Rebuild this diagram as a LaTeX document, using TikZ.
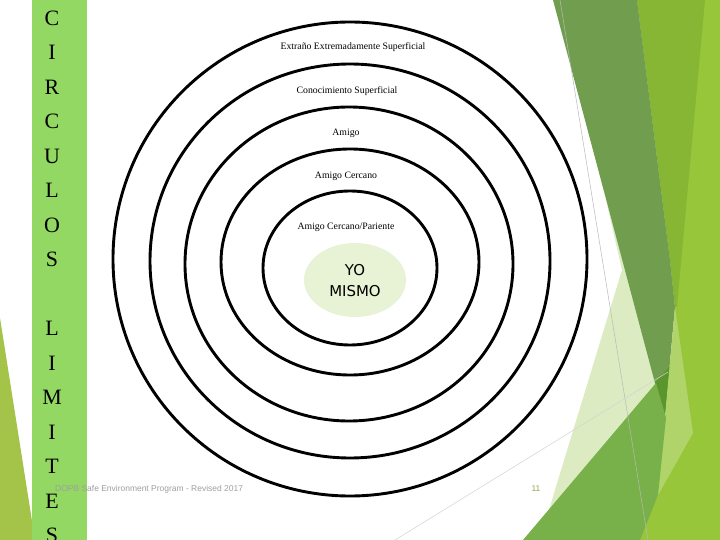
\documentclass[tikz,border=0pt]{standalone}
\usepackage{fontspec}
\setmainfont{Liberation Serif}
\newfontfamily\yofont{DejaVu Sans}
\newfontfamily\footfont{Liberation Sans}
\definecolor{stripe}{RGB}{146,216,98}
\definecolor{olivetri}{RGB}{163,196,72}
\definecolor{darkband}{RGB}{112,158,78}
\definecolor{ygone}{RGB}{134,182,52}
\definecolor{ygtwo}{RGB}{152,198,58}
\definecolor{palegreen}{RGB}{221,235,194}
\definecolor{medgreen}{RGB}{120,176,74}
\definecolor{lightstrip}{RGB}{176,212,106}
\definecolor{darkest}{RGB}{90,150,45}
\definecolor{selffill}{RGB}{232,242,213}
\definecolor{pagenum}{RGB}{140,170,70}
\begin{document}
\begin{tikzpicture}[x=1bp,y=-1bp,
  ring/.style={draw=black,line width=2.9bp},
  ringlabel/.style={font=\fontsize{9.8}{11}\selectfont,inner sep=0pt},
  bigletter/.style={font=\fontsize{22}{22}\selectfont,inner sep=0pt},
  thinline/.style={draw=gray!55,line width=0.5bp}]
\useasboundingbox (0,0) rectangle (720,540);
\clip (0,0) rectangle (720,540);
\fill[white] (0,0) rectangle (720,540);
% left decorations
\fill[olivetri] (0,318) -- (32,521) -- (32,540) -- (0,540) -- cycle;
\fill[stripe] (32,0) rectangle (87,540);
% right decorations
\fill[ygtwo] (637,0) -- (720,0) -- (720,540) -- (637,540) -- (658,495) -- (668,420) -- (675,307) -- (670,260) -- cycle;
\fill[ygone] (637,0) -- (705,0) -- (677,307) -- (675,307) -- (670,260) -- cycle;
\fill[palegreen] (606,200) -- (662,400) -- (540,540) -- (555,490) -- (622,270) -- cycle;
\fill[darkband] (553,0) -- (637,0) -- (670,260) -- (675,307) -- (665,417) -- (655,383) -- cycle;
\fill[darkest] (655,383) -- (670,366) -- (665,417) -- cycle;
\fill[lightstrip] (675,307) -- (693,433) -- (657,497) -- (665,417) -- cycle;
\fill[medgreen] (656,383) -- (666,418) -- (658,495) -- (640,540) -- (523,540) -- cycle;
\coordinate (la) at (560,0);
\coordinate (lb) at (648,540);
\coordinate (lc) at (395,540);
\coordinate (ld) at (668,372);
\draw[thinline] (la) -- (lb);
\draw[thinline,draw=gray!35] (lc) -- (ld);
% rings
\draw[ring] (350,259) ellipse [x radius=237, y radius=237];
\draw[ring] (350,261) ellipse [x radius=200, y radius=197];
\draw[ring] (349,264) ellipse [x radius=164, y radius=157];
\draw[ring] (350,262) ellipse [x radius=129, y radius=113];
\draw[ring] (350,268) ellipse [x radius=87, y radius=77];
\fill[selffill] (355,280) ellipse [x radius=51, y radius=37];
% labels
\node[ringlabel] (l1) at (353,47) {Extraño Extremadamente Superficial};
\node[ringlabel] (l2) at (347,91) {Conocimiento Superficial};
\node[ringlabel] (l3) at (346,133) {Amigo};
\node[ringlabel] (l4) at (346,176) {Amigo Cercano};
\node[ringlabel] (l5) at (346,227) {Amigo Cercano/Pariente};
\node[font=\yofont\fontsize{15}{21}\selectfont,align=center,inner sep=0pt] (self) at (355,281) {YO\\MISMO};
% vertical word
\foreach \l/\i in {C/0,I/1,R/2,C/3,U/4,L/5,O/6,S/7,L/9,I/10,M/11,I/12,T/13,E/14,S/15}
  \node[bigletter] (v\i) at (52,{18+34.5*\i}) {\l};
% footer
\node[font=\footfont\fontsize{8.5}{10}\selectfont,text=gray!75,anchor=west,inner sep=0pt] (foot) at (55,489) {DOPB Safe Environment Program - Revised 2017};
\node[font=\footfont\fontsize{8.5}{10}\selectfont,text=pagenum,inner sep=0pt] (num) at (536,489) {11};
\end{tikzpicture}
\end{document}
